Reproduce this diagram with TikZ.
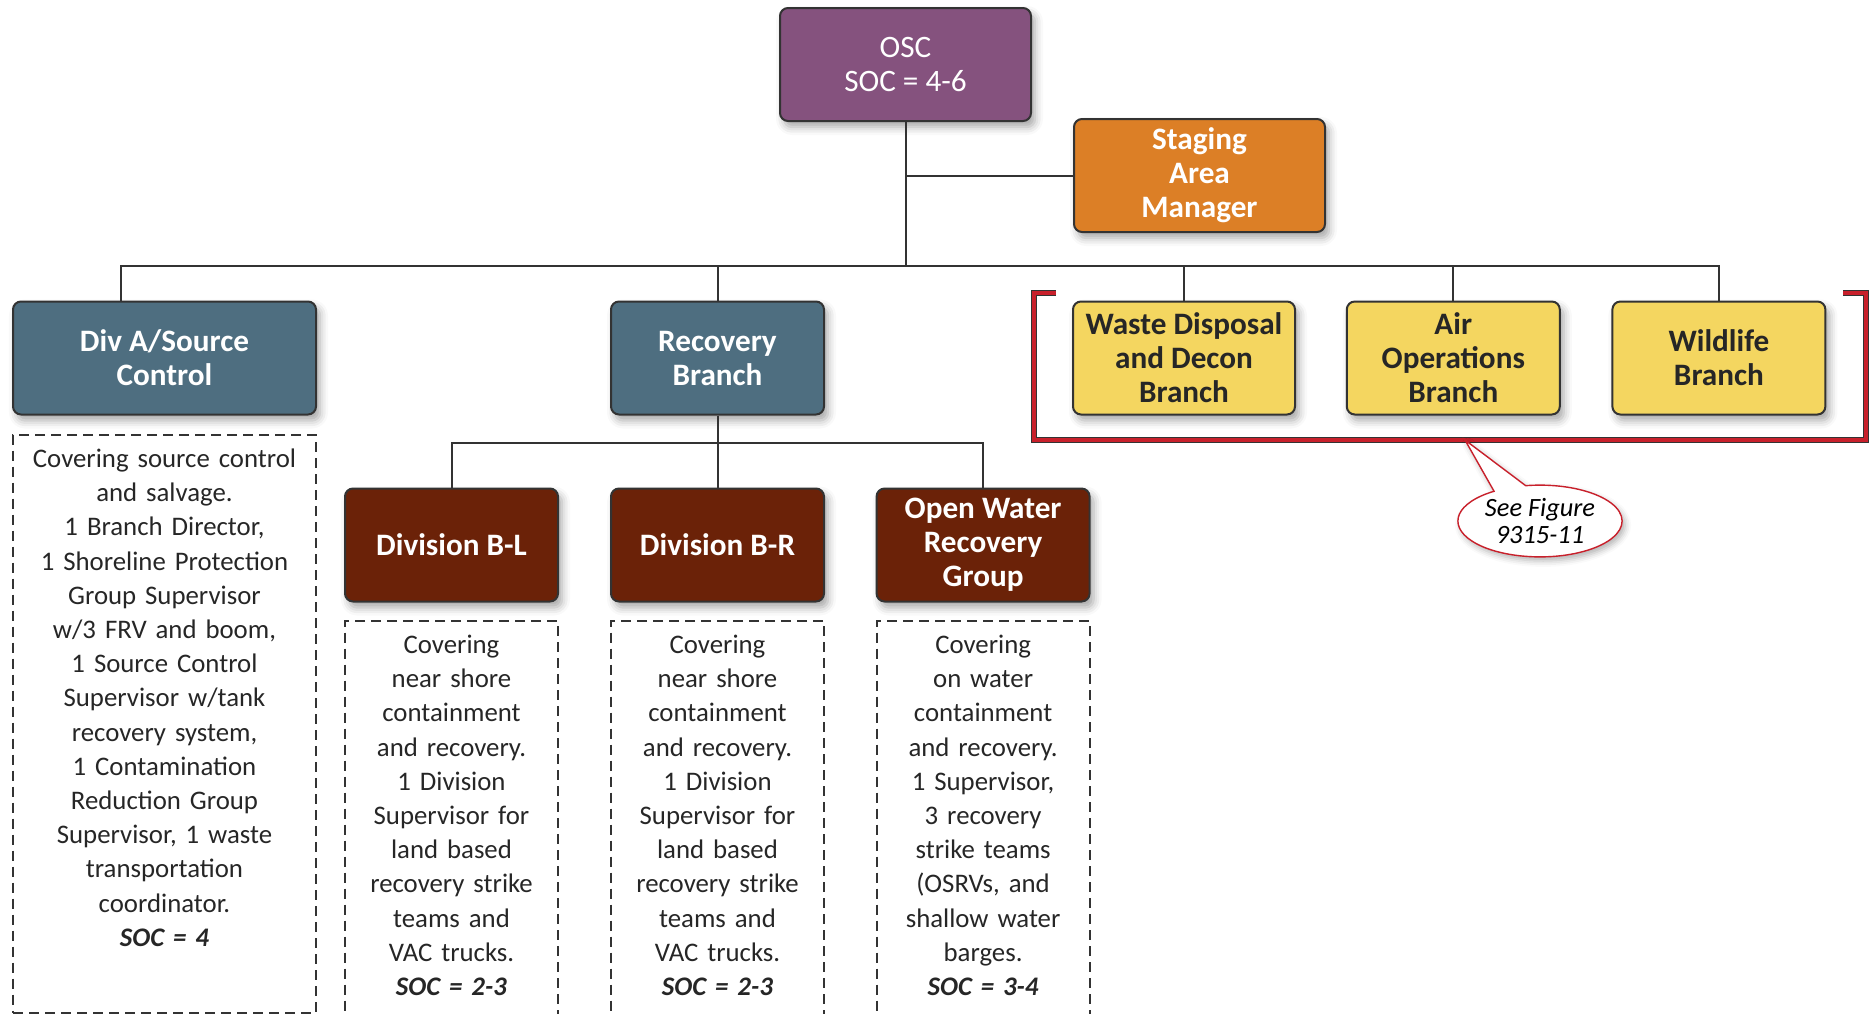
\documentclass[tikz,border=0pt]{standalone}
\usepackage{fontspec}
\setmainfont{Carlito}
\usetikzlibrary{positioning,calc,shadows.blur,shapes.callouts}
\definecolor{oscpurple}{HTML}{85527E}
\definecolor{stgorange}{HTML}{DC7F26}
\definecolor{slateblue}{HTML}{4E6E80}
\definecolor{divbrown}{HTML}{6B2208}
\definecolor{unityellow}{HTML}{F4D660}
\definecolor{linegray}{HTML}{333333}
\definecolor{brkred}{HTML}{C8202B}
\tikzset{
      conn/.style = {draw=linegray, line width=1pt},
      base/.style = {draw=linegray, line width=1pt, rounded corners=4pt, align=center,
                     minimum height=56.5pt, minimum width=106.5pt, text=white,
                     font=\fontsize{15.6pt}{17pt}\selectfont\bfseries,
                     blur shadow={shadow xshift=2pt, shadow yshift=-3pt,
                                  shadow blur radius=4pt, shadow opacity=35}},
     chief/.style = {base, fill=oscpurple, minimum width=125.5pt,
                     font=\fontsize{15.6pt}{16.8pt}\selectfont},
   staging/.style = {base, fill=stgorange, minimum width=125.5pt},
    branch/.style = {base, fill=slateblue},
      unit/.style = {base, fill=unityellow, text=black!85},
  division/.style = {base, fill=divbrown},
      note/.style = {draw=linegray, line width=1pt, dash pattern=on 5pt off 3pt,
                     align=center, inner sep=0pt, text width=106.5pt,
                     text height=16.5pt, text depth=180.5pt, anchor=north,
                     text=black!85, font=\fontsize{13.4pt}{17.1pt}\selectfont},
   bracket/.style = {draw=linegray, double=brkred, double distance=1.6pt, line width=0.5pt},
    seefig/.style = {ellipse callout, draw=brkred, line width=0.7pt, fill=white,
                     callout pointer arc=24, align=center, inner sep=1.5pt,
                     font=\fontsize{13.2pt}{13.2pt}\selectfont\itshape,
                     blur shadow={shadow xshift=1.5pt, shadow yshift=-2pt,
                                  shadow blur radius=3pt, shadow opacity=30}},
}
\begin{document}
\begin{tikzpicture}[x=0.5pt,y=-0.5pt]
\useasboundingbox (0,0) rectangle (1875,1013);
% top of the chart
\node[chief] (osc) at (905.5,64.5) {OSC\\SOC = 4-6};
\node[staging] (stg) at (1199.5,175.5) {Staging\\Area\\Manager};
% branches
\node[branch, minimum width=151.5pt] (diva) at (164.5,358) {Div A/Source\\Control};
\node[branch] (recov) at (717.5,358) {Recovery\\Branch};
\node[unit, minimum width=111pt] (waste) at (1184,358) {Waste Disposal\\and Decon\\Branch};
\node[unit, right=24.9pt of waste] (air) {Air\\Operations\\Branch};
\node[unit, right=25.3pt of air] (wild) {Wildlife\\Branch};
% divisions under recovery
\node[division, below=36pt of recov] (dbr) {Division B-R};
\node[division, left=25.5pt of dbr] (dbl) {Division B-L};
\node[division, right=25.3pt of dbr] (ow) {Open Water\\Recovery\\Group};
% dashed notes
\node[note, text width=151.5pt, text depth=272.5pt, below=9pt of diva] (divanote)
  {Covering source control\\and salvage.\\1 Branch Director,\\1 Shoreline Protection\\Group Supervisor\\w/3 FRV and boom,\\1 Source Control\\Supervisor w/tank\\recovery system,\\1 Contamination\\Reduction Group\\Supervisor, 1 waste\\transportation\\coordinator.\\\textbf{\textit{SOC = 4}}};
\node[note, below=8.5pt of dbl] (dblnote)
  {Covering\\near shore\\containment\\and recovery.\\1 Division\\Supervisor for\\land based\\recovery strike\\teams and\\VAC trucks.\\\textbf{\textit{SOC = 2-3}}};
\node[note, below=8.5pt of dbr] (dbrnote)
  {Covering\\near shore\\containment\\and recovery.\\1 Division\\Supervisor for\\land based\\recovery strike\\teams and\\VAC trucks.\\\textbf{\textit{SOC = 2-3}}};
\node[note, below=8.5pt of ow] (ownote)
  {Covering\\on water\\containment\\and recovery.\\1 Supervisor,\\3 recovery\\strike teams\\(OSRVs, and\\shallow water\\barges.\\\textbf{\textit{SOC = 3-4}}};
% connectors
\coordinate (bus) at ($(osc.south)+(0,144)$);
\coordinate (sub) at ($(recov.south)+(0,27)$);
\draw[conn] (osc.south) -- (bus);
\draw[conn] (osc.south |- stg.west) -- (stg.west);
\draw[conn] ([xshift=-22pt]diva.north) |- (bus) -| (wild.north);
\foreach \n in {recov,waste,air}
  \draw[conn] (\n.north) -- (\n.north |- bus);
\draw[conn] (recov.south) -- (dbr.north);
\draw[conn] (dbl.north) |- (sub) -| (ow.north);
% bracket round the yellow branches
\coordinate (brk) at (1465,440);
\draw[bracket] (1056,293) -- (1034,293) |- (1866,440) -- (1866,293) -- (1843,293);
\node[seefig, callout absolute pointer={(brk)}] (see) at (1540,521) {See Figure\\9315-11};
\end{tikzpicture}
\end{document}
